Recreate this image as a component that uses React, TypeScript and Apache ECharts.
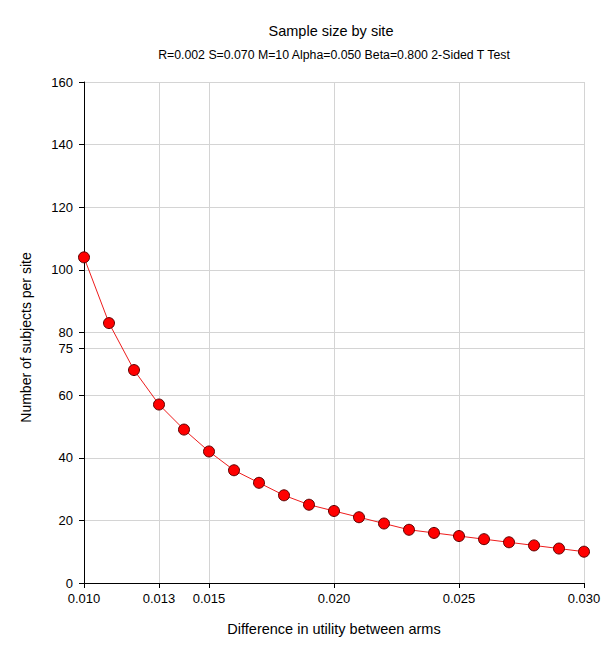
import React, { useEffect, useRef } from "react";
import * as echarts from "echarts";

const differences = [0.010, 0.011, 0.012, 0.013, 0.014, 0.015, 0.016, 0.017, 0.018, 0.019, 0.020, 0.021, 0.022, 0.023, 0.024, 0.025, 0.026, 0.027, 0.028, 0.029, 0.030];
const subjectsPerSite = [104, 83, 68, 57, 49, 42, 36, 32, 28, 25, 23, 21, 19, 17, 16, 15, 14, 13, 12, 11, 10];
const xTicks = [0.010, 0.013, 0.015, 0.020, 0.025, 0.030];
const yTicks = [0, 20, 40, 60, 75, 80, 100, 120, 140, 160];

const FONT = "'Liberation Sans', Arial, sans-serif";

export default function App() {
  const ref = useRef<HTMLDivElement>(null);
  useEffect(() => {
    if (!ref.current) return;
    const chart = echarts.init(ref.current, null, { renderer: "svg" });
    const gridLine = { show: true, lineStyle: { color: "#d4d4d4", width: 1 } };
    chart.setOption({
      animation: false,
      backgroundColor: "#ffffff",
      textStyle: { fontFamily: FONT },
      title: [
        {
          text: "Sample size by site",
          left: 326,
          top: 18,
          textAlign: "center",
          textStyle: { fontFamily: FONT, fontSize: 14.5, fontWeight: "normal", color: "#000" },
        },
        {
          text: "R=0.002 S=0.070 M=10 Alpha=0.050 Beta=0.800 2-Sided T Test",
          left: 329,
          top: 44,
          textAlign: "center",
          textStyle: { fontFamily: FONT, fontSize: 12.3, fontWeight: "normal", color: "#000" },
        },
      ],
      grid: { left: 84, right: 31, top: 82, bottom: 75, containLabel: false },
      xAxis: {
        type: "value",
        min: 0.01,
        max: 0.03,
        name: "Difference in utility between arms",
        nameLocation: "middle",
        nameGap: 38,
        nameTextStyle: { fontFamily: FONT, fontSize: 14.5, color: "#000" },
        axisLine: { show: true, onZero: false, lineStyle: { color: "#000", width: 1 } },
        axisTick: { show: true, length: 5, lineStyle: { color: "#000" }, customValues: xTicks },
        axisLabel: {
          fontFamily: FONT,
          fontSize: 13,
          color: "#000",
          margin: 9,
          customValues: xTicks,
          formatter: (v: number) => v.toFixed(3),
        },
        splitLine: gridLine,
      },
      yAxis: {
        type: "value",
        min: 0,
        max: 160,
        name: "Number of subjects per site",
        nameLocation: "middle",
        nameGap: 51,
        nameTextStyle: { fontFamily: FONT, fontSize: 14, color: "#000", padding: [0, 10, 0, 0] },
        axisLine: { show: true, onZero: false, lineStyle: { color: "#000", width: 1 } },
        axisTick: { show: true, length: 5, lineStyle: { color: "#000" }, customValues: yTicks },
        axisLabel: {
          fontFamily: FONT,
          fontSize: 13,
          color: "#000",
          margin: 11,
          customValues: yTicks,
        },
        splitLine: gridLine,
      },
      series: [
        {
          type: "line",
          data: differences.map((d, i) => [d, subjectsPerSite[i]]),
          symbol: "circle",
          symbolSize: 11,
          lineStyle: { color: "#ee1c1c", width: 1 },
          itemStyle: { color: "#ff0000", borderColor: "#5a0000", borderWidth: 1 },
          z: 5,
        },
      ],
    });
    return () => chart.dispose();
  }, []);
  return <div ref={ref} style={{ width: 615, height: 658, marginLeft: -8, marginTop: -8 }} />;
}
